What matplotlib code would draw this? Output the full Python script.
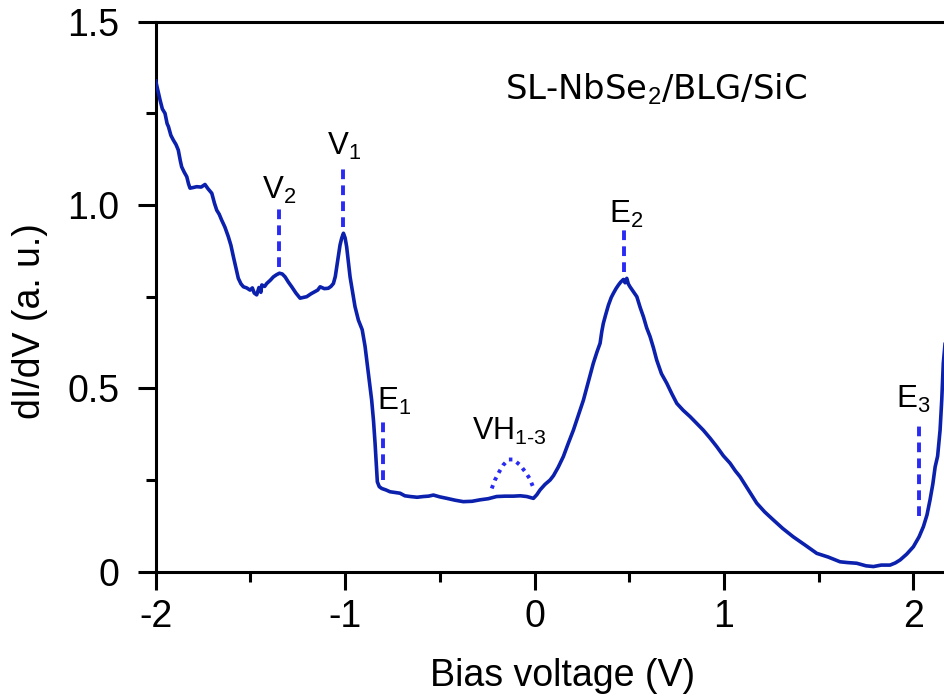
import matplotlib
matplotlib.use("Agg")
import matplotlib.pyplot as plt
from matplotlib.ticker import MultipleLocator, FixedLocator

plt.rcParams['font.family'] = ['Liberation Sans', 'DejaVu Sans']
plt.rcParams['mathtext.fontset'] = 'custom'
plt.rcParams['mathtext.rm'] = 'Liberation Sans'
plt.rcParams['mathtext.it'] = 'Liberation Sans:italic'
plt.rcParams['axes.unicode_minus'] = False

# dI/dV spectrum
bias = [
    -2.000, -1.977, -1.965, -1.951, -1.940, -1.933, -1.920, -1.907, -1.893, -1.881,
    -1.870, -1.863, -1.850, -1.836, -1.827, -1.819, -1.800, -1.784, -1.760, -1.740,
    -1.725, -1.704, -1.690, -1.678, -1.665, -1.652, -1.635, -1.617, -1.603, -1.590,
    -1.577, -1.564, -1.550, -1.537, -1.520, -1.502, -1.490, -1.480, -1.467, -1.455,
    -1.445, -1.440, -1.425, -1.414, -1.395, -1.379, -1.362, -1.347, -1.332, -1.317,
    -1.300, -1.282, -1.260, -1.238, -1.220, -1.203, -1.180, -1.159, -1.145, -1.132,
    -1.110, -1.089, -1.075, -1.062, -1.052, -1.044, -1.035, -1.027, -1.018, -1.009,
    -1.000, -0.992, -0.983, -0.974, -0.960, -0.948, -0.930, -0.910, -0.895, -0.886,
    -0.872, -0.860, -0.850, -0.842, -0.835, -0.830, -0.820, -0.807, -0.785, -0.763,
    -0.735, -0.710, -0.685, -0.657, -0.620, -0.587, -0.560, -0.534, -0.500, -0.463,
    -0.420, -0.376, -0.330, -0.288, -0.245, -0.200, -0.155, -0.112, -0.075, -0.041,
    -0.020, -0.006, 0.012, 0.029, 0.055, 0.082, 0.100, 0.125, 0.152, 0.178,
    0.205, 0.230, 0.258, 0.285, 0.310, 0.330, 0.346, 0.355, 0.363, 0.375,
    0.390, 0.405, 0.416, 0.430, 0.443, 0.455, 0.469, 0.478, 0.487, 0.495,
    0.504, 0.520, 0.540, 0.558, 0.575, 0.592, 0.610, 0.628, 0.645, 0.670,
    0.698, 0.725, 0.751, 0.785, 0.821, 0.855, 0.891, 0.927, 0.962, 0.997,
    1.032, 1.060, 1.085, 1.130, 1.173, 1.215, 1.261, 1.310, 1.366, 1.430,
    1.490, 1.550, 1.613, 1.650, 1.701, 1.750, 1.789, 1.830, 1.877, 1.905,
    1.930, 1.965, 2.000, 2.030, 2.053, 2.072, 2.088, 2.103, 2.115, 2.128,
    2.141, 2.150, 2.158, 2.167,
]
didv = [
    1.338, 1.286, 1.262, 1.250, 1.222, 1.214, 1.190, 1.177, 1.165, 1.150,
    1.120, 1.104, 1.090, 1.077, 1.058, 1.046, 1.048, 1.050, 1.049, 1.056,
    1.045, 1.032, 1.005, 0.986, 0.975, 0.959, 0.940, 0.914, 0.890, 0.859,
    0.830, 0.800, 0.785, 0.777, 0.774, 0.768, 0.774, 0.760, 0.755, 0.775,
    0.762, 0.782, 0.778, 0.786, 0.795, 0.804, 0.810, 0.814, 0.812, 0.804,
    0.790, 0.777, 0.760, 0.746, 0.748, 0.750, 0.758, 0.764, 0.768, 0.777,
    0.772, 0.773, 0.778, 0.786, 0.805, 0.832, 0.862, 0.891, 0.910, 0.923,
    0.910, 0.886, 0.845, 0.804, 0.760, 0.723, 0.686, 0.660, 0.615, 0.577,
    0.520, 0.468, 0.410, 0.350, 0.290, 0.245, 0.232, 0.227, 0.223, 0.218,
    0.216, 0.214, 0.207, 0.205, 0.203, 0.205, 0.206, 0.209, 0.204, 0.200,
    0.195, 0.191, 0.192, 0.196, 0.199, 0.205, 0.206, 0.206, 0.207, 0.205,
    0.202, 0.200, 0.210, 0.223, 0.238, 0.250, 0.262, 0.285, 0.314, 0.350,
    0.386, 0.425, 0.468, 0.520, 0.568, 0.600, 0.623, 0.655, 0.677, 0.700,
    0.727, 0.748, 0.759, 0.772, 0.782, 0.790, 0.797, 0.788, 0.800, 0.785,
    0.777, 0.765, 0.750, 0.720, 0.695, 0.665, 0.641, 0.610, 0.577, 0.540,
    0.514, 0.485, 0.459, 0.440, 0.423, 0.405, 0.386, 0.364, 0.341, 0.316,
    0.296, 0.275, 0.259, 0.222, 0.187, 0.163, 0.141, 0.118, 0.095, 0.072,
    0.050, 0.040, 0.027, 0.025, 0.023, 0.016, 0.014, 0.018, 0.018, 0.024,
    0.032, 0.048, 0.068, 0.095, 0.123, 0.155, 0.196, 0.240, 0.286, 0.315,
    0.386, 0.470, 0.568, 0.620,
]

# feature markers: label, label position, dashed line x and its span
mark_labels = ['V$_2$', 'V$_1$', 'E$_1$', 'E$_2$', 'E$_3$']
mark_text_x = [-1.440, -1.097, -0.833, 0.393, 1.909]
mark_text_y = [1.016, 1.136, 0.441, 0.950, 0.446]
mark_x = [-1.347, -1.013, -0.802, 0.473, 2.030]
mark_lo = [0.832, 0.941, 0.250, 0.818, 0.153]
mark_hi = [0.994, 1.109, 0.414, 0.932, 0.409]

# VH dotted arc
vh_x = [-0.226, -0.209, -0.186, -0.165, -0.138, -0.112, -0.077, -0.050, -0.027, -0.010]
vh_y = [0.227, 0.250, 0.273, 0.291, 0.306, 0.306, 0.291, 0.273, 0.255, 0.234]

line_color = '#0B20AC'
mark_color = '#2A2AF5'

fig = plt.figure(figsize=(9.45, 7.0), dpi=100)
ax = fig.add_axes([0.1648, 0.1833, 0.8352, 0.7857])

ax.plot(bias, didv, color=line_color, lw=2.6, solid_joinstyle='round', zorder=3)

for lab, tx, ty, mx, lo, hi in zip(mark_labels, mark_text_x, mark_text_y,
                                   mark_x, mark_lo, mark_hi):
    ax.plot([mx, mx], [lo, hi], color=mark_color, lw=2.8,
            linestyle=(0, (2.5, 1.6)), zorder=2)
    ax.text(tx, ty, lab, fontsize=22.5, ha='left', va='baseline')

ax.plot(vh_x, vh_y, color=mark_color, lw=2.8, linestyle=(0, (0.9, 1.3)), zorder=2)
ax.text(-0.332, 0.359, 'VH$_{1\u20103}$', fontsize=22, ha='left', va='baseline')

ax.text(0.443, 0.858, 'SL-NbSe$_2$/BLG/SiC', transform=ax.transAxes,
        fontsize=24.4, family=['DejaVu Sans'], ha='left', va='baseline')

ax.set_xlim(-2, 2.167)
ax.set_ylim(0, 1.5)

ax.xaxis.set_major_locator(FixedLocator([-2, -1, 0, 1, 2]))
ax.xaxis.set_minor_locator(FixedLocator([-1.5, -0.5, 0.5, 1.5]))
ax.set_xticklabels(['-2', '-1', '0', '1', '2'])
ax.yaxis.set_major_locator(FixedLocator([0, 0.5, 1.0, 1.5]))
ax.yaxis.set_minor_locator(MultipleLocator(0.25))
ax.set_yticklabels(['0', '0.5', '1.0', '1.5'])

ax.tick_params(which='major', direction='out', length=13, width=2.2, labelsize=27)
ax.tick_params(which='minor', direction='out', length=7, width=2.2)
ax.tick_params(axis='x', which='major', pad=7)
ax.tick_params(axis='y', which='major', pad=13)
ax.tick_params(top=False, right=False)

for side in ['left', 'bottom', 'top']:
    ax.spines[side].set_linewidth(2.2)
ax.spines['right'].set_visible(False)

ax.set_xlabel('Bias voltage (V)', fontsize=27)
ax.set_ylabel('dI/dV (a. u.)', fontsize=27)
ax.xaxis.set_label_coords(0.515, -0.157)
ax.yaxis.set_label_coords(-0.137, 0.456)

fig.savefig('out.png', dpi=100)
